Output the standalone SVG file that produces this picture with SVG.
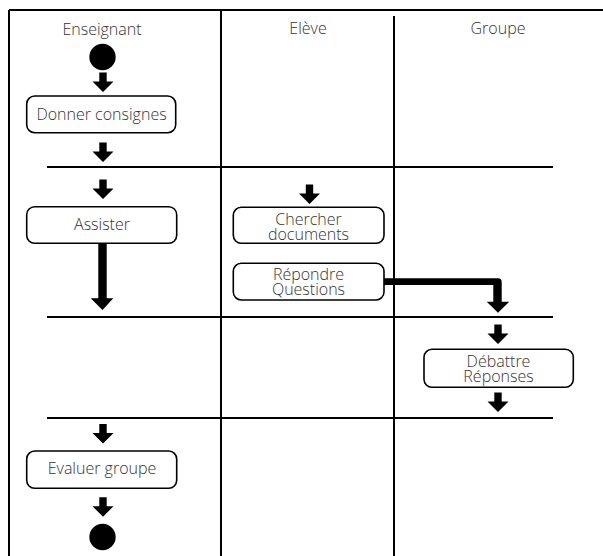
<svg xmlns="http://www.w3.org/2000/svg" xmlns:xlink="http://www.w3.org/1999/xlink" width="603" height="556" viewBox="0 0 603 556">
<style>
.ln{stroke:#000;stroke-width:2;fill:none}
.box{fill:#fff;stroke:#000;stroke-width:1.6}
.t{font-family:"Open Sans","Noto Sans",sans-serif;font-size:16px;font-weight:300;fill:#333;text-anchor:middle}
.ar{fill:#000}
</style>
<defs>
<path id="arr" d="M-3.7,0 H3.7 V9 H10.5 L0,19.5 L-10.5,9 H-3.7 Z"/>
</defs>
<rect width="603" height="556" fill="#fff"/>
<g id="lanes">
<path class="ln" d="M9,10 H603 M9,10 V556 M221,10 V556 M394,16 V556"/>
<path class="ln" d="M47,167 H553 M47,317 H553 M47,418 H553"/>
<text class="t" x="102" y="35">Enseignant</text>
<text class="t" x="308" y="34">Elève</text>
<text class="t" x="498" y="34">Groupe</text>
</g>
<g id="start"><circle cx="102.5" cy="57" r="13.2" fill="#000"/></g>
<g id="donner"><rect class="box" x="26.7" y="96" width="149" height="36.7" rx="8"/><text class="t" x="101.5" y="120">Donner consignes</text></g>
<g id="assister"><rect class="box" x="26.7" y="206.7" width="150" height="36.6" rx="8"/><text class="t" x="102" y="230">Assister</text></g>
<g id="chercher"><rect class="box" x="233.3" y="207.3" width="150.7" height="36" rx="8"/><text class="t" x="308.5" y="225">Chercher</text><text class="t" x="308.5" y="240">documents</text></g>
<g id="repondre"><rect class="box" x="233.3" y="263.3" width="150.7" height="36.7" rx="8"/><text class="t" x="308.5" y="280">Répondre</text><text class="t" x="308.5" y="294.5">Questions</text></g>
<g id="debattre"><rect class="box" x="424" y="349.3" width="149.3" height="38" rx="8"/><text class="t" x="498.5" y="367">Débattre</text><text class="t" x="498.5" y="381.5">Réponses</text></g>
<g id="evaluer"><rect class="box" x="26.7" y="451" width="150" height="37.3" rx="8"/><text class="t" x="102" y="474">Evaluer groupe</text></g>
<g id="end"><circle cx="102.5" cy="537" r="13.2" fill="#000"/></g>
<g id="connectors" class="ar">
<use xlink:href="#arr" x="103" y="72.5"/>
<use xlink:href="#arr" x="103" y="142.5"/>
<use xlink:href="#arr" x="103" y="179.5"/>
<path d="M98.3,243.3 H106.7 V298.3 H113.3 L102.5,310 L90.7,298.3 H98.3 Z"/>
<use xlink:href="#arr" x="309.5" y="184.5"/>
<path d="M384,278.3 H498 Q501.7,278.3 501.7,282 V301.7 H509.3 L498,312.7 L486.7,301.7 H493.3 V285 H384 Z"/>
<use xlink:href="#arr" x="498" y="324.5"/>
<use xlink:href="#arr" x="498" y="392.5"/>
<use xlink:href="#arr" x="103" y="424"/>
<use xlink:href="#arr" x="103" y="497.3"/>
</g>
</svg>
